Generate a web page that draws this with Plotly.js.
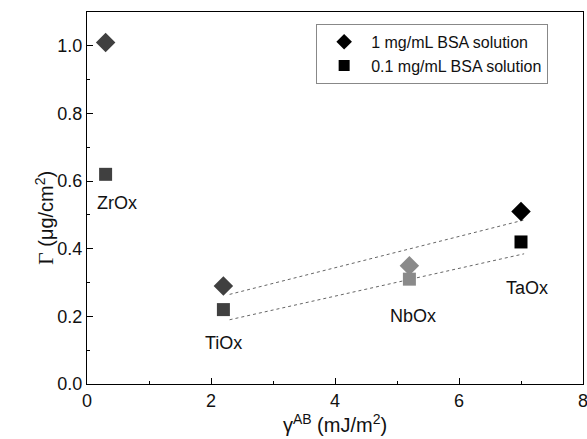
<!DOCTYPE html>
<html><head><meta charset="utf-8">
<script src="https://cdn.plot.ly/plotly-3.0.1.min.js"></script>
<style>body{margin:0;background:#fff}#c{width:587px;height:439px}</style>
</head><body><div id="c"></div>
<script>
const oxides = ["ZrOx", "TiOx", "NbOx", "TaOx"];
const gammaAB = [0.3, 2.2, 5.2, 7.0];
const gamma1mg = [1.01, 0.29, 0.35, 0.51];
const gamma01mg = [0.62, 0.22, 0.31, 0.42];
const pointColors = ["#404040", "#404040", "#8a8a8a", "#000000"];
const labelX = [0.48, 2.2, 5.26, 7.1];
const labelY = [0.535, 0.12, 0.2, 0.285];
const fitX = [2.3, 7.05];
const fit1mg = [0.265, 0.485];
const fit01mg = [0.19, 0.385];

const FONT = "Liberation Sans, Arial, sans-serif";

const traces = [
  {x: fitX, y: fit1mg, mode: "lines", line: {color: "#666", width: 1, dash: "dot"}, showlegend: false, hoverinfo: "skip"},
  {x: fitX, y: fit01mg, mode: "lines", line: {color: "#666", width: 1, dash: "dot"}, showlegend: false, hoverinfo: "skip"},
  {x: gammaAB, y: gamma01mg, mode: "markers", marker: {symbol: "square", size: 13, color: pointColors}, showlegend: false},
  {x: gammaAB, y: gamma1mg, mode: "markers", marker: {symbol: "diamond", size: 15, color: pointColors}, showlegend: false},
  {x: [null], y: [null], mode: "markers", name: "1 mg/mL BSA solution", marker: {symbol: "diamond", size: 12, color: "#000"}},
  {x: [null], y: [null], mode: "markers", name: "0.1 mg/mL BSA solution", marker: {symbol: "square", size: 11, color: "#000"}}
];

const annotations = oxides.map((t, i) => ({
  x: labelX[i], y: labelY[i], text: t, showarrow: false,
  font: {family: FONT, size: 18, color: "#111"}
}));
annotations.push({
  xref: "paper", yref: "paper", x: -0.115, y: 0.446, textangle: -90, showarrow: false,
  text: "<span style='font-family:Liberation Serif;font-size:22px'>Γ</span> (μg/cm<sup>2</sup>)",
  font: {family: FONT, size: 20, color: "#111"}
});

const axisCommon = {
  showgrid: false, zeroline: false, showline: true, linecolor: "#000", linewidth: 1.2,
  mirror: true, ticks: "inside", ticklen: 6, tickcolor: "#000", tickwidth: 1,
  ticklabeloverflow: "allow",
  tickfont: {family: FONT, size: 18, color: "#111"}
};

const layout = {
  width: 587, height: 439,
  margin: {l: 87, r: 4, t: 12, b: 55},
  paper_bgcolor: "#fff", plot_bgcolor: "#fff",
  showlegend: true,
  legend: {x: 0.462, y: 0.968, xanchor: "left", yanchor: "top",
    bordercolor: "#888", borderwidth: 1, bgcolor: "#fff",
    font: {family: FONT, size: 16, color: "#111"},
    tracegroupgap: 0, itemwidth: 44, entrywidth: 224},
  xaxis: Object.assign({}, axisCommon, {
    range: [0, 8], tickvals: [0, 2, 4, 6, 8], ticktext: ["0", "2", "4", "6", "8"],
    minor: {tickvals: [1, 3, 5, 7], ticks: "inside", ticklen: 3, tickcolor: "#000"},
    title: {text: "γ<sup>AB</sup> (mJ/m<sup>2</sup>)", font: {family: FONT, size: 20, color: "#111"}, standoff: 4}
  }),
  yaxis: Object.assign({}, axisCommon, {
    range: [0, 1.1], tickvals: [0, 0.2, 0.4, 0.6, 0.8, 1.0], ticktext: ["0.0", "0.2", "0.4", "0.6", "0.8", "1.0"],
    minor: {tickvals: [0.1, 0.3, 0.5, 0.7, 0.9], ticks: "inside", ticklen: 3, tickcolor: "#000"}
  }),
  annotations: annotations
};

Plotly.newPlot("c", traces, layout, {displayModeBar: false, staticPlot: true});
</script></body></html>
